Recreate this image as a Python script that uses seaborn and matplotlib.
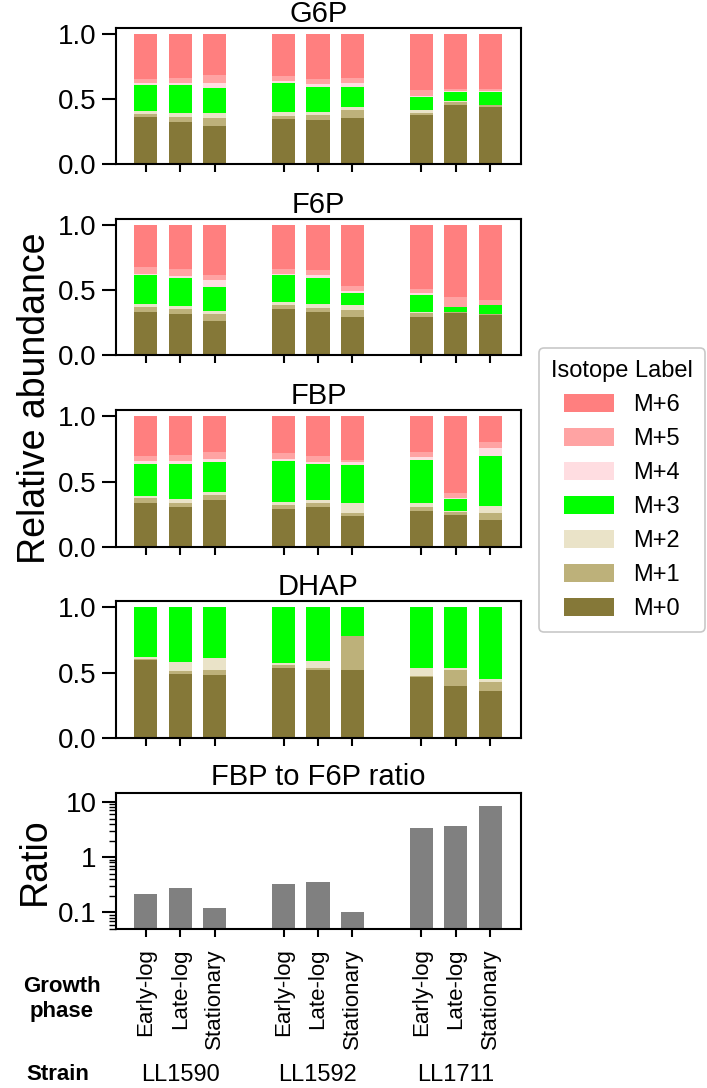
import numpy as np
import pandas as pd
import matplotlib
matplotlib.use("Agg")
import matplotlib.pyplot as plt
import seaborn as sns
from matplotlib.patches import Patch
from matplotlib.ticker import LogLocator, NullFormatter

# ==========================================
# Data (fractions, rows = samples, cols = M+0 ... M+6)
# ==========================================
strains = ["LL1590", "LL1592", "LL1711"]
phases = ["Early-log", "Late-log", "Stationary"]
isotopes = ["M+0", "M+1", "M+2", "M+3", "M+4", "M+5", "M+6"]
iso_colors = ["#857838", "#BDB17A", "#EAE3C8", "#00FF00", "#FFDDE1", "#FFA3A3", "#FF7F7F"]

g6p = [
    [0.360, 0.025, 0.020, 0.205, 0.010, 0.030, 0.350],
    [0.325, 0.040, 0.025, 0.220, 0.010, 0.045, 0.335],
    [0.295, 0.060, 0.035, 0.195, 0.035, 0.065, 0.315],
    [0.345, 0.025, 0.030, 0.225, 0.015, 0.035, 0.325],
    [0.335, 0.040, 0.025, 0.195, 0.020, 0.040, 0.345],
    [0.355, 0.060, 0.025, 0.155, 0.030, 0.040, 0.335],
    [0.375, 0.020, 0.020, 0.100, 0.010, 0.045, 0.430],
    [0.455, 0.020, 0.010, 0.070, 0.005, 0.015, 0.425],
    [0.435, 0.015, 0.005, 0.100, 0.005, 0.015, 0.425],
]
f6p = [
    [0.333, 0.039, 0.020, 0.223, 0.005, 0.055, 0.325],
    [0.313, 0.041, 0.023, 0.218, 0.013, 0.054, 0.338],
    [0.264, 0.049, 0.025, 0.185, 0.054, 0.038, 0.385],
    [0.351, 0.036, 0.023, 0.205, 0.010, 0.037, 0.338],
    [0.333, 0.031, 0.028, 0.203, 0.018, 0.041, 0.346],
    [0.295, 0.049, 0.038, 0.092, 0.016, 0.043, 0.467],
    [0.295, 0.025, 0.010, 0.134, 0.013, 0.028, 0.495],
    [0.323, 0.005, 0.005, 0.034, 0.005, 0.072, 0.556],
    [0.310, 0.005, 0.003, 0.064, 0.005, 0.036, 0.577],
]
fbp = [
    [0.338, 0.034, 0.020, 0.244, 0.021, 0.040, 0.303],
    [0.308, 0.030, 0.026, 0.272, 0.021, 0.046, 0.297],
    [0.362, 0.035, 0.026, 0.226, 0.023, 0.056, 0.272],
    [0.290, 0.031, 0.025, 0.313, 0.013, 0.046, 0.282],
    [0.308, 0.028, 0.023, 0.275, 0.017, 0.041, 0.308],
    [0.238, 0.024, 0.071, 0.293, 0.020, 0.016, 0.338],
    [0.277, 0.026, 0.030, 0.334, 0.020, 0.041, 0.272],
    [0.246, 0.021, 0.008, 0.092, 0.008, 0.040, 0.585],
    [0.205, 0.051, 0.059, 0.382, 0.059, 0.049, 0.195],
]
dhap = [
    [0.595, 0.005, 0.020, 0.380, 0.0, 0.0, 0.0],
    [0.492, 0.020, 0.065, 0.423, 0.0, 0.0, 0.0],
    [0.479, 0.043, 0.085, 0.393, 0.0, 0.0, 0.0],
    [0.533, 0.023, 0.018, 0.426, 0.0, 0.0, 0.0],
    [0.520, 0.015, 0.054, 0.411, 0.0, 0.0, 0.0],
    [0.520, 0.257, 0.003, 0.220, 0.0, 0.0, 0.0],
    [0.469, 0.005, 0.057, 0.469, 0.0, 0.0, 0.0],
    [0.396, 0.124, 0.015, 0.465, 0.0, 0.0, 0.0],
    [0.357, 0.073, 0.020, 0.550, 0.0, 0.0, 0.0],
]
fbp_f6p_ratio = [0.212, 0.273, 0.118, 0.331, 0.351, 0.102, 3.37, 3.61, 8.46]

metabolites = {"G6P": g6p, "F6P": f6p, "FBP": fbp, "DHAP": dhap}

# ==========================================
# Long-format table with cumulative tops for stacking
# ==========================================
rows = []
for met, frac in metabolites.items():
    for k, sample in enumerate(frac):
        si, pj = divmod(k, 3)
        cum = np.cumsum(sample)
        for iso, val, top in zip(isotopes, sample, cum):
            rows.append({"metabolite": met, "strain": strains[si], "phase": phases[pj],
                         "pos": 4 * si + pj, "isotope": iso, "value": val, "top": top})
df = pd.DataFrame(rows)

ratio_df = pd.DataFrame({
    "strain": np.repeat(strains, 3),
    "phase": phases * 3,
    "ratio": fbp_f6p_ratio,
})
ratio_df["pos"] = [4 * strains.index(s) + phases.index(p) for s, p in zip(ratio_df.strain, ratio_df.phase)]

# ==========================================
# Figure
# ==========================================
sns.set_theme(style="ticks")
plt.rcParams["font.family"] = ["Liberation Sans", "DejaVu Sans"]
for key in ["text.color", "axes.labelcolor", "xtick.color", "ytick.color", "axes.edgecolor"]:
    plt.rcParams[key] = "black"

W, H = 707, 1088
fig = plt.figure(figsize=(W / 100, H / 100), dpi=100)

ax_left = 116 / W
ax_w = (521 - 116) / W
panel_px = [(28, 164), (219, 355), (410, 547), (601, 738), (793, 929)]
axes = [fig.add_axes([ax_left, 1 - b / H, ax_w, (b - t) / H]) for t, b in panel_px]

bar_w = 0.67
xlim = (-0.87, 10.9)
positions = sorted(ratio_df["pos"].unique())


def style_axis(ax):
    for sp in ax.spines.values():
        sp.set_visible(True)
        sp.set_linewidth(1.5)
        sp.set_color("black")
    ax.set_xlim(*xlim)
    ax.set_xticks(positions)
    ax.tick_params(axis="x", length=6, width=1.5, color="black")
    ax.tick_params(axis="y", which="major", length=10, width=1.5, labelsize=20, pad=4, color="black")
    ax.set_xlabel("")
    ax.set_ylabel("")


for ax, met in zip(axes[:4], metabolites):
    sub = df[df.metabolite == met]
    # draw cumulative tops from the top layer down, so each layer covers the previous
    for iso, col in zip(isotopes[::-1], iso_colors[::-1]):
        layer = sub[sub.isotope == iso]
        if layer["value"].sum() == 0:
            continue
        sns.barplot(data=layer, x="pos", y="top", native_scale=True, color=col,
                    saturation=1, width=bar_w, errorbar=None, linewidth=0, ax=ax)
    style_axis(ax)
    ax.set_ylim(0, 1.046)
    ax.set_yticks([0, 0.5, 1.0])
    ax.set_yticklabels(["0.0", "0.5", "1.0"])
    ax.set_xticklabels([])
    ax.set_title(met, fontsize=21, pad=2)

# Ratio panel
axr = axes[4]
sns.barplot(data=ratio_df, x="pos", y="ratio", native_scale=True, color="#808080",
            saturation=1, width=bar_w, errorbar=None, linewidth=0, ax=axr)
axr.set_yscale("log")
style_axis(axr)
axr.set_ylim(0.05, 14.5)
axr.set_yticks([0.1, 1, 10])
axr.set_yticklabels(["0.1", "1", "10"])
axr.yaxis.set_minor_locator(LogLocator(base=10, subs=np.arange(2, 10)))
axr.yaxis.set_minor_formatter(NullFormatter())
axr.tick_params(axis="y", which="minor", length=5, width=1, color="black")
axr.set_xticks(positions)
axr.set_xticklabels(list(ratio_df.sort_values("pos")["phase"]), rotation=90, fontsize=16)
axr.tick_params(axis="x", pad=8)
axr.set_title("FBP to F6P ratio", fontsize=21, pad=6)

# Y labels
fig.text(35 / W, 1 - 398 / H, "Relative abundance", rotation=90, fontsize=27,
         ha="center", va="center")
fig.text(35 / W, 1 - 861 / H, "Ratio", rotation=90, fontsize=27, ha="center", va="center")

# Bottom annotations
fig.text(62 / W, 1 - 999 / H, "Growth\nphase", fontsize=16, fontweight="bold",
         ha="center", va="center", multialignment="center", linespacing=1.25)
fig.text(58 / W, 1 - 1075 / H, "Strain", fontsize=16, fontweight="bold", ha="center", va="center")
for si, s in enumerate(strains):
    xd = 4 * si + 1
    xf = fig.transFigure.inverted().transform(axr.transData.transform((xd, 1)))[0]
    fig.text(xf, 1 - 1075 / H, s, fontsize=17, ha="center", va="center")

# Legend
handles = [Patch(facecolor=c, edgecolor="none", label=l)
           for l, c in zip(isotopes[::-1], iso_colors[::-1])]
leg = fig.legend(handles=handles, title="Isotope Label", loc="center",
                 bbox_to_anchor=(622 / W, 1 - 490 / H), fontsize=17, title_fontsize=17,
                 handlelength=2.1, handleheight=0.8, handletextpad=0.8, labelspacing=0.5,
                 frameon=True, fancybox=True, borderpad=0.5)
leg.get_frame().set_edgecolor("#BBBBBB")
leg.get_frame().set_linewidth(1.2)

fig.savefig("out.png", dpi=100)
